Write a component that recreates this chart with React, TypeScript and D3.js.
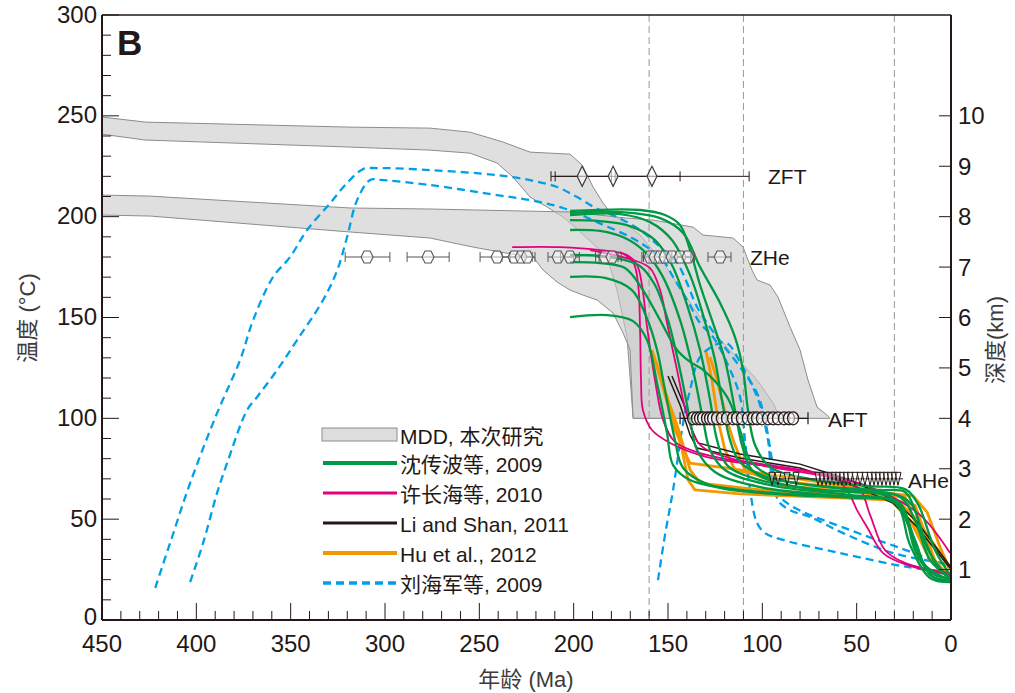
import React from "react";
import * as d3 from "d3";

type P = [number, number];

// ---------- axes ----------
const ageTicks = [450, 400, 350, 300, 250, 200, 150, 100, 50, 0];
const tempTicks = [0, 50, 100, 150, 200, 250, 300];
const depthTicks = [1, 2, 3, 4, 5, 6, 7, 8, 9, 10];
const refAges = [160, 110, 30];

// ---------- MDD envelopes (age Ma, T °C) ----------
const mddBand1: P[] = [
  [450, 249.4], [427.1, 246.9], [318.5, 244.4], [276.1, 243.9], [254.9, 241.9], [237.4, 237.0],
  [223.1, 232.0], [201.9, 231.0], [195.5, 225.6], [189.7, 214.7], [184.4, 206.7], [180.7, 202.3],
  [164.8, 190.9], [151.6, 176.0], [141.0, 161.1], [133.0, 150.2], [118.7, 135.4], [102.8, 119.0],
  [94.3, 107.6], [90.6, 100],
  [168.5, 100], [171.7, 140.3], [177.0, 163.6], [182.3, 180.0], [197.7, 193.5], [205.6, 199.8],
  [214.1, 204.8], [223.1, 209.7], [232.1, 219.6], [240.6, 226.6], [254.9, 231.5], [276.1, 233.0],
  [318.5, 234.5], [427.1, 238.0], [450, 240.9],
];
const mddBand2: P[] = [
  [450, 210.7], [424.5, 210.2], [318.5, 204.3], [276.1, 203.8], [201.9, 202.3], [171.7, 199.3],
  [157.9, 198.3], [136.7, 194.8], [131.4, 190.9], [115.5, 189.4], [110.2, 184.9], [105.5, 173.5],
  [102.8, 168.6], [95.9, 166.1], [91.7, 160.1], [85.3, 145.3], [80.0, 133.9], [75.8, 119.0],
  [71.0, 105.6], [65.7, 101.6], [64.1, 100],
  [168.5, 100], [170.1, 133.9], [173.8, 142.3], [179.1, 152.2], [187.6, 158.7], [195.0, 161.1],
  [201.9, 163.6], [208.8, 167.6], [216.2, 173.5], [221.5, 180.0], [230.0, 181.0], [253.3, 184.9],
  [276.1, 189.4], [318.5, 192.4], [424.5, 200.3], [450, 200.8],
];

// ---------- t-T paths ----------
const greenPaths: P[][] = [
  [[201.9, 202.8], [164.8, 203.3], [151.6, 200.8], [143.6, 195.8], [138.3, 183.4], [133.0, 166.1], [126.7, 148.7], [119.8, 128.9], [114.5, 104.1], [110.8, 86.8], [105.5, 74.4], [93.3, 68.4], [69.4, 64.5], [42.9, 63.0], [27.0, 61.5], [20.7, 57.0], [13.8, 39.7], [6.9, 25.8], [0.5, 20.8]],
  [[201.9, 200.8], [175.4, 201.3], [159.5, 197.3], [147.9, 188.4], [138.3, 171.0], [131.4, 151.2], [125.1, 128.9], [121.4, 109.1], [117.1, 89.2], [111.8, 78.3], [95.9, 70.4], [64.1, 65.9], [37.6, 64.5], [24.4, 63.5], [19.1, 54.5], [12.2, 34.7], [0.5, 19.8]],
  [[201.9, 198.3], [186.0, 197.8], [170.1, 195.3], [156.9, 188.4], [147.9, 176.0], [139.9, 156.2], [133.0, 133.9], [127.7, 109.1], [124.0, 89.2], [118.7, 76.8], [101.2, 69.4], [69.4, 64.5], [32.3, 61.0], [24.4, 52.1], [16.4, 29.7], [8.5, 22.3], [0.5, 20.8]],
  [[201.9, 193.4], [186.0, 192.9], [172.8, 189.4], [162.2, 182.5], [153.2, 171.0], [143.6, 148.7], [136.7, 123.9], [131.4, 99.2], [127.7, 84.3], [119.8, 74.4], [95.9, 66.9], [53.5, 62.0], [29.7, 58.5], [21.7, 44.6], [13.8, 27.3], [0.5, 19.8]],
  [[201.9, 181.0], [186.0, 180.5], [172.8, 178.5], [164.8, 175.5], [156.9, 166.1], [150.0, 148.7], [143.6, 123.9], [138.3, 99.2], [134.6, 84.3], [125.1, 73.4], [101.2, 65.9], [53.5, 61.0], [28.6, 58.5], [19.1, 39.7], [11.1, 22.3], [0.5, 19.8]],
  [[201.9, 170.1], [183.4, 169.6], [169.1, 163.6], [161.6, 150.7], [155.8, 133.9], [151.6, 114.0], [146.3, 89.2], [142.0, 75.4], [127.7, 66.9], [85.3, 62.0], [42.9, 60.5], [27.0, 58.0], [19.1, 34.7], [8.5, 20.8], [0.5, 19.8]],
  [[201.9, 150.2], [182.3, 151.2], [168.5, 148.2], [161.1, 138.8], [155.8, 117.5], [150.5, 92.7], [147.3, 76.8], [138.3, 69.4], [111.8, 64.5], [58.8, 61.0], [29.7, 58.0], [21.7, 37.2], [11.1, 20.8], [0.5, 18.8]],
  [[201.9, 201.8], [175.4, 202.3], [154.2, 199.3], [142.0, 191.9], [133.0, 175.0], [122.4, 157.2], [114.5, 140.3], [110.2, 123.9], [107.6, 104.1], [103.9, 86.8], [95.9, 75.9], [74.7, 69.9], [42.9, 66.4], [24.4, 64.9], [17.5, 57.5], [8.5, 34.7], [0.5, 22.3]],
  [[201.9, 177.5], [186.0, 177.0], [172.8, 174.5], [163.3, 163.6], [154.2, 148.7], [145.2, 133.9], [138.3, 128.0], [131.4, 124.0], [118.7, 110.6], [111.8, 94.2], [106.5, 79.3], [93.3, 70.4], [53.5, 64.5], [27.0, 61.0], [19.1, 49.6], [11.1, 29.7], [0.5, 20.8]],
];
const pinkPaths: P[][] = [
  [[232.6, 184.9], [207.2, 184.9], [186.0, 183.4], [171.7, 181.0], [166.4, 176.0], [163.8, 166.1], [161.1, 145.3], [156.9, 119.0], [152.6, 99.2], [146.3, 88.3], [133.0, 82.8], [101.2, 76.8], [58.8, 69.4], [48.2, 64.5], [42.9, 52.1], [35.0, 34.7], [24.4, 28.3], [0.5, 23.3]],
  [[191.3, 183.4], [168.5, 178.5], [159.5, 174.5], [154.2, 163.6], [150.5, 147.2], [145.2, 123.9], [139.9, 101.6], [133.0, 86.8], [117.1, 80.3], [80.0, 74.4], [42.9, 65.9], [16.4, 52.1], [0.5, 33.2]],
  [[175.4, 182.5], [168.5, 177.5], [165.8, 166.1], [164.8, 143.8], [164.3, 119.0], [163.3, 104.1], [158.5, 94.2], [148.9, 87.8], [129.3, 80.8], [94.3, 75.9], [62.5, 70.9], [55.1, 64.5], [49.8, 54.5], [44.5, 46.1], [36.0, 33.2], [23.3, 27.3], [0.5, 22.3]],
];
const blackPaths: P[][] = [
  [[150.0, 121.0], [143.6, 106.6], [138.3, 91.7], [134.6, 85.3], [111.8, 80.3], [80.0, 75.4], [55.1, 67.9], [30.7, 58.0], [18.0, 46.1], [0.5, 25.8]],
  [[147.9, 121.0], [141.5, 106.6], [137.2, 94.2], [134.1, 87.8], [111.8, 82.3], [80.0, 77.3], [55.1, 69.9], [30.7, 60.0], [18.0, 48.6], [0.5, 26.8]],
];
const orangePaths: P[][] = [
  [[158.5, 133.9], [154.2, 121.5], [150.0, 109.1], [145.2, 96.7], [142.0, 86.8], [138.3, 74.4], [133.0, 67.9], [101.2, 64.5], [58.8, 62.0], [32.3, 59.5], [21.7, 49.6], [11.1, 29.7], [0.5, 22.3]],
  [[156.3, 127.9], [152.1, 115.0], [147.3, 100.1], [142.5, 84.3], [139.4, 69.4], [135.7, 64.5], [111.8, 62.5], [69.4, 61.0], [29.7, 59.5], [19.1, 57.0], [8.5, 29.7], [0.5, 20.8]],
  [[127.7, 130.4], [124.0, 119.0], [121.4, 109.1], [118.7, 99.2], [115.5, 89.2], [109.2, 74.4], [90.6, 66.9], [48.2, 63.0], [24.4, 61.0], [17.5, 44.6], [5.8, 24.8], [0.5, 20.8]],
  [[156.9, 128.9], [151.6, 111.6], [146.3, 94.2], [139.9, 80.8], [138.3, 77.8], [111.8, 74.4], [76.3, 69.4], [41.3, 64.5], [27.0, 58.0], [18.0, 49.6], [5.8, 33.2], [0.5, 24.8]],
  [[129.8, 132.9], [126.7, 119.0], [123.5, 99.2], [119.8, 84.3], [114.5, 74.4], [85.3, 68.4], [48.2, 64.5], [20.1, 61.5], [12.7, 53.5], [5.8, 36.2], [0.5, 24.8]],
];
const bluePaths: P[][] = [
  [[421.8, 15.9], [413.9, 38.2], [403.3, 67.9], [389.0, 102.6], [376.8, 128.9], [369.9, 148.7], [359.3, 170.1], [350.3, 180.0], [341.3, 193.4], [329.1, 206.7], [320.1, 216.7], [311.6, 223.6], [304.2, 224.1], [276.1, 223.1], [240.6, 220.6], [223.1, 218.1], [208.8, 214.7], [198.2, 209.7], [187.6, 203.9], [177.0, 199.8], [164.8, 193.4], [154.2, 184.9], [145.2, 177.0], [139.9, 167.1], [134.6, 155.2], [124.0, 140.3], [111.8, 125.4], [102.8, 112.5], [98.6, 99.2], [94.9, 79.3], [91.7, 59.5], [85.3, 54.5], [74.7, 51.1], [57.2, 43.1], [30.7, 33.2], [1.6, 27.8]],
  [[403.3, 18.8], [396.4, 38.2], [389.0, 63.0], [383.7, 77.8], [373.1, 104.1], [367.8, 110.6], [357.2, 123.9], [346.6, 138.8], [332.8, 158.7], [325.3, 173.5], [320.1, 189.9], [314.8, 208.2], [307.9, 218.2], [302.6, 218.2], [276.1, 215.7], [240.6, 210.7], [223.1, 208.2], [205.6, 204.3], [187.6, 197.3], [170.1, 189.9], [161.1, 184.9], [152.6, 178.5], [147.3, 170.1], [139.9, 158.7], [133.0, 147.2], [126.1, 140.3], [118.7, 127.4], [111.8, 110.6], [109.2, 89.2], [106.5, 64.5], [102.8, 48.1], [98.6, 43.1], [89.0, 39.7], [58.8, 33.2], [23.3, 26.3], [1.6, 23.8]],
  [[155.3, 19.8], [151.6, 42.1], [147.3, 64.5], [142.0, 97.7], [138.3, 114.0], [133.0, 130.4], [124.0, 136.8], [118.7, 137.3], [111.8, 127.9], [105.5, 116.5], [101.2, 106.6], [97.0, 89.2], [93.3, 64.5], [85.3, 57.0], [53.5, 44.6], [27.0, 35.7], [1.6, 26.8]],
];

// ---------- thermochronology data: [age, younger bound, older bound] ----------
const zftTemp = 220;
const zftPoints: [number, number, number][] = [
  [195.5, 180.0, 212.0], [179.1, 143.6, 209.8], [158.5, 107.0, 178.0],
];
const zheTemp = 180;
const zhePoints: [number, number, number][] = [
  [309.5, 297.4, 321.1], [277.2, 266.0, 288.3], [240.6, 233.7, 249.6], [231.6, 226.0, 238.0],
  [227.9, 222.0, 234.0], [224.7, 220.5, 230.0], [208.3, 200.1, 213.6], [201.9, 197.0, 207.0],
  [183.4, 176.5, 188.4], [179.7, 174.8, 186.5], [159.5, 152.0, 163.8], [156.9, 150.0, 163.0],
  [154.2, 148.0, 160.0], [151.6, 146.0, 158.0], [147.9, 138.0, 154.0], [143.6, 138.0, 150.0],
  [139.4, 136.0, 146.0], [122.4, 116.6, 128.8],
];
const aftTemp = 100;
const aftAges = [136.7, 134.6, 133.0, 131.4, 129.3, 127.7, 126.1, 124.0, 121.4, 118.7, 115.5, 113.4, 110.8, 107.6, 104.9, 102.8, 100.2, 97.0, 94.3, 91.7, 88.5, 85.9, 83.7];
const aftRange: P = [75.8, 143.6];
const aheTemp = 70;
const aheAges = [94.9, 91.7, 86.9, 82.1, 70.5, 68.4, 66.2, 64.1, 62.0, 59.9, 57.8, 55.6, 53.5, 50.9, 48.2, 45.6, 42.9, 40.8, 38.7, 36.6, 34.4, 32.3, 30.2, 28.1];
const aheRange: P = [25.4, 95.9];

const legendLabels = ["MDD, 本次研究", "沈传波等, 2009", "许长海等, 2010", "Li and Shan, 2011", "Hu et al., 2012", "刘海军等, 2009"];

const C = {
  ink: "#231815",
  green: "#009944",
  pink: "#e4007f",
  black: "#231815",
  orange: "#f39800",
  blue: "#00a0e9",
  grayFill: "#c9caca",
  grayStroke: "#8c8c8c",
  ref: "#9fa0a0",
};
const FONT = "'Liberation Sans', Arial, 'Noto Sans CJK SC', sans-serif";

export default function App() {
  const x = d3.scaleLinear().domain([450, 0]).range([102, 951]);
  const y = d3.scaleLinear().domain([0, 300]).range([620, 15]);
  const yDepth = d3.scaleLinear().domain([0, 12]).range([620, 15]);

  const smooth = d3.line<P>().x((d) => x(d[0])).y((d) => y(d[1])).curve(d3.curveCatmullRom.alpha(0.5));
  const straight = d3.line<P>().x((d) => x(d[0])).y((d) => y(d[1]));
  const closed = d3.line<P>().x((d) => x(d[0])).y((d) => y(d[1])).curve(d3.curveLinearClosed);

  const hex = (cx: number, cy: number, r: number) =>
    `M${cx - r},${cy} L${cx - r / 2},${cy - r} L${cx + r / 2},${cy - r} L${cx + r},${cy} L${cx + r / 2},${cy + r} L${cx - r / 2},${cy + r} Z`;
  const diamond = (cx: number, cy: number, w: number, h: number) =>
    `M${cx},${cy - h / 2} L${cx + w / 2},${cy} L${cx},${cy + h / 2} L${cx - w / 2},${cy} Z`;
  const vtri = (cx: number, cy: number, w: number, h: number) =>
    `M${cx - w / 2},${cy - h / 2} L${cx + w / 2},${cy - h / 2} L${cx},${cy + h / 2} Z`;

  const minorT = d3.range(0, 301, 10);
  const minorA = d3.range(0, 451, 10);

  const legendStyles = [
    { type: "rect" },
    { color: C.green, w: 4 },
    { color: C.pink, w: 3 },
    { color: C.black, w: 3 },
    { color: C.orange, w: 4 },
    { color: C.blue, w: 3.5, dash: "8 5" },
  ];
  const legendY = [435, 463, 493, 523, 553, 583];

  return (
    <svg width={1015} height={693} style={{ position: "absolute", left: 0, top: 0, background: "#fff" }} fontFamily={FONT}>
      {/* MDD envelopes */}
      {[mddBand1, mddBand2].map((b, i) => (
        <path key={"b" + i} d={closed(b) || ""} fill={C.grayFill} fillOpacity={0.6} stroke={C.grayStroke} strokeWidth={1} />
      ))}

      {/* reference dashed lines */}
      {refAges.map((a) => (
        <line key={"r" + a} x1={x(a)} x2={x(a)} y1={15} y2={620} stroke={C.ref} strokeWidth={1.1} strokeDasharray="7 4" />
      ))}

      {/* paths */}
      {bluePaths.map((p, i) => (
        <path key={"bl" + i} d={smooth(p) || ""} fill="none" stroke={C.blue} strokeWidth={2.3} strokeDasharray="8 5" />
      ))}
      {orangePaths.map((p, i) => (
        <path key={"o" + i} d={straight(p) || ""} fill="none" stroke={C.orange} strokeWidth={2.8} strokeLinejoin="round" />
      ))}
      {blackPaths.map((p, i) => (
        <path key={"k" + i} d={straight(p) || ""} fill="none" stroke={C.black} strokeWidth={1.5} />
      ))}
      {pinkPaths.map((p, i) => (
        <path key={"p" + i} d={smooth(p) || ""} fill="none" stroke={C.pink} strokeWidth={1.8} />
      ))}
      {greenPaths.map((p, i) => (
        <path key={"g" + i} d={smooth(p) || ""} fill="none" stroke={C.green} strokeWidth={2.3} />
      ))}

      {/* ZFT */}
      <g stroke={C.ink} strokeWidth={1}>
        {zftPoints.map((d, i) => (
          <g key={"zf" + i}>
            <line x1={x(d[2])} x2={x(d[1])} y1={y(zftTemp)} y2={y(zftTemp)} />
            <line x1={x(d[2])} x2={x(d[2])} y1={y(zftTemp) - 5} y2={y(zftTemp) + 5} />
            <line x1={x(d[1])} x2={x(d[1])} y1={y(zftTemp) - 5} y2={y(zftTemp) + 5} />
          </g>
        ))}
        {zftPoints.map((d, i) => (
          <path key={"zfd" + i} d={diamond(x(d[0]), y(zftTemp), 10, 20)} fill="#fff" fillOpacity={0.6} stroke="#3e3a39" strokeWidth={1.2} />
        ))}
      </g>

      {/* ZHe */}
      <g stroke="#595757" strokeWidth={1}>
        {zhePoints.map((d, i) => (
          <g key={"zh" + i}>
            <line x1={x(d[2])} x2={x(d[1])} y1={y(zheTemp)} y2={y(zheTemp)} />
            <line x1={x(d[2])} x2={x(d[2])} y1={y(zheTemp) - 5} y2={y(zheTemp) + 5} />
            <line x1={x(d[1])} x2={x(d[1])} y1={y(zheTemp) - 5} y2={y(zheTemp) + 5} />
          </g>
        ))}
        {zhePoints.map((d, i) => (
          <path key={"zhh" + i} d={hex(x(d[0]), y(zheTemp), 6)} fill="#fff" fillOpacity={0.5} stroke="#595757" strokeWidth={1.1} />
        ))}
      </g>

      {/* AFT */}
      <g stroke={C.ink}>
        <line x1={x(aftRange[1])} x2={x(aftRange[0])} y1={y(aftTemp)} y2={y(aftTemp)} strokeWidth={1.2} />
        <line x1={x(aftRange[1])} x2={x(aftRange[1])} y1={y(aftTemp) - 6} y2={y(aftTemp) + 6} strokeWidth={1.2} />
        <line x1={x(aftRange[0])} x2={x(aftRange[0])} y1={y(aftTemp) - 6} y2={y(aftTemp) + 6} strokeWidth={1.2} />
        {aftAges.map((a, i) => (
          <ellipse key={"af" + i} cx={x(a)} cy={y(aftTemp)} rx={5.5} ry={6.5} fill="#fff" fillOpacity={0.5} strokeWidth={1.3} />
        ))}
      </g>

      {/* AHe */}
      <g stroke={C.ink}>
        <line x1={x(aheRange[1])} x2={x(aheRange[0])} y1={y(aheTemp)} y2={y(aheTemp)} strokeWidth={1} />
        {aheAges.map((a, i) => (
          <path key={"ah" + i} d={vtri(x(a), y(aheTemp), 6, 13)} fill="#fff" fillOpacity={0.4} strokeWidth={1} />
        ))}
      </g>

      {/* data labels */}
      <g fontSize={21} fill={C.ink}>
        <text x={768} y={y(zftTemp)} dominantBaseline="central">ZFT</text>
        <text x={750} y={y(zheTemp)} dominantBaseline="central">ZHe</text>
        <text x={828} y={y(aftTemp) + 1} dominantBaseline="central">AFT</text>
        <text x={908} y={y(aheTemp) + 2} dominantBaseline="central">AHe</text>
      </g>

      {/* axes frame */}
      <g stroke={C.ink} fill="none">
        <line x1={102} x2={951} y1={15} y2={15} strokeWidth={1.5} />
        <line x1={102} x2={102} y1={15} y2={620} strokeWidth={2} />
        <line x1={102} x2={951} y1={620} y2={620} strokeWidth={2} />
        <line x1={951} x2={951} y1={15} y2={620} strokeWidth={2} />
        {minorT.map((t) => (
          <line key={"tt" + t} x1={102} x2={102 + (t % 50 === 0 ? 17 : 9)} y1={y(t)} y2={y(t)} strokeWidth={1} />
        ))}
        {minorA.map((a) => (
          <line key={"at" + a} x1={x(a)} x2={x(a)} y1={620} y2={620 - (a % 50 === 0 ? 17 : 9)} strokeWidth={1} />
        ))}
        {depthTicks.map((d) => (
          <line key={"dt" + d} x1={951} x2={939} y1={yDepth(d)} y2={yDepth(d)} strokeWidth={1} />
        ))}
      </g>

      {/* tick labels */}
      <g fontSize={24} fill={C.ink}>
        {tempTicks.map((t) => (
          <text key={"tl" + t} x={97} y={y(t) - (t === 0 ? 4 : 1)} textAnchor="end" dominantBaseline="central">{t}</text>
        ))}
        {ageTicks.map((a) => (
          <text key={"al" + a} x={x(a)} y={643} textAnchor="middle" dominantBaseline="central">{a}</text>
        ))}
        {depthTicks.map((d) => (
          <text key={"dl" + d} x={958} y={yDepth(d)} dominantBaseline="central">{d}</text>
        ))}
      </g>

      {/* axis titles */}
      <g fontSize={22} fill="#3e3a39">
        <text transform="translate(27,318) rotate(-90)" textAnchor="middle" dominantBaseline="central">温度 (°C)</text>
        <text transform="translate(995,340) rotate(-90)" textAnchor="middle" dominantBaseline="central">深度(km)</text>
        <text x={526} y={679} textAnchor="middle" dominantBaseline="central">年龄 (Ma)</text>
      </g>

      <text x={117} y={55} fontSize={35} fontWeight="bold" fill={C.ink}>B</text>

      {/* legend */}
      <g>
        {legendLabels.map((lab, i) => {
          const s: any = legendStyles[i];
          const ly = legendY[i];
          return (
            <g key={"lg" + i}>
              {s.type === "rect" ? (
                <rect x={322} y={ly - 7} width={75} height={13} fill="#dcdddd" stroke={C.grayStroke} strokeWidth={1} />
              ) : (
                <line x1={323} x2={397} y1={ly} y2={ly} stroke={s.color} strokeWidth={s.w} strokeDasharray={s.dash} />
              )}
              <text x={400} y={ly + 1} fontSize={21} fill={C.ink} dominantBaseline="central">{lab}</text>
            </g>
          );
        })}
      </g>
    </svg>
  );
}
